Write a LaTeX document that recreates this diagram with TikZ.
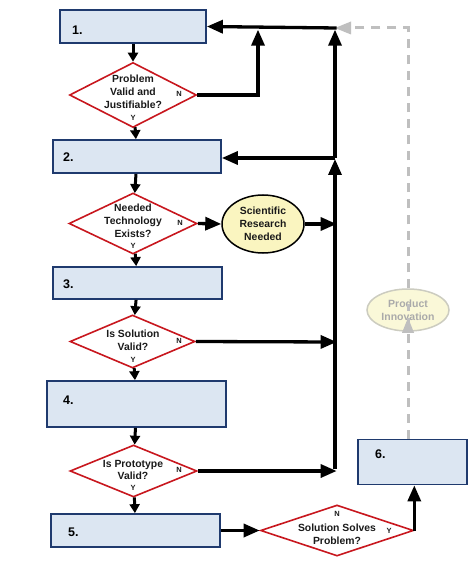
\documentclass[tikz,border=0pt]{standalone}
\usepackage{fontspec}
\setmainfont{Liberation Sans}
\usetikzlibrary{shapes.geometric,arrows.meta}
\definecolor{boxfill}{HTML}{DCE6F2}
\definecolor{boxline}{HTML}{1F3A6E}
\definecolor{diared}{HTML}{C8171E}
\definecolor{ellfill}{HTML}{FAF5C0}
\definecolor{ghostfill}{HTML}{FAF8D8}
\definecolor{ghostline}{HTML}{CCCCC0}
\definecolor{ghosttext}{HTML}{AAAAAA}
\definecolor{dashgray}{HTML}{BFBFBF}
\definecolor{txt}{HTML}{1A1A1A}
\tikzset{
  stepbox/.style={draw=boxline, fill=boxfill, line width=1.7pt, inner sep=0pt},
  dia/.style={diamond, draw=diared, fill=white, line width=1.6pt, inner sep=0pt},
  ell/.style={ellipse, draw=black, fill=ellfill, line width=1.5pt, inner sep=0pt, minimum width=82pt, minimum height=58pt},
  ghost/.style={ellipse, draw=ghostline, fill=ghostfill, line width=1.5pt, inner sep=0pt, minimum width=82pt, minimum height=42pt},
  dtext/.style={align=center, font=\bfseries\fontsize{10.4}{12.8}\selectfont, text=txt, inner sep=0pt},
  yn/.style={font=\bfseries\fontsize{7.5}{8}\selectfont, text=txt, inner sep=0pt},
  numlab/.style={font=\bfseries\fontsize{12.5}{14}\selectfont, text=black, anchor=west, inner sep=0pt},
  big/.style={line width=3.3pt, -{Triangle[length=16pt,width=13pt]}},
  small/.style={line width=3pt, -{Triangle[length=9pt,width=10pt]}},
  gdash/.style={line width=3pt, draw=dashgray, dash pattern=on 9pt off 7pt},
}
\begin{document}
\begin{tikzpicture}[x=1pt,y=-1pt]
\useasboundingbox (0,0) rectangle (474,561);
\fill[white] (0,0) rectangle (474,561);
% boxes
\node[stepbox, minimum width=146pt, minimum height=33pt] (b1) at (133,26.5) {};
\node[stepbox, minimum width=168pt, minimum height=33pt] (b2) at (137,156.5) {};
\node[stepbox, minimum width=169pt, minimum height=32pt] (b3) at (137.5,283) {};
\node[stepbox, minimum width=179pt, minimum height=46pt] (b4) at (136.5,404) {};
\node[stepbox, minimum width=169pt, minimum height=33pt] (b5) at (135.5,530.5) {};
\node[stepbox, minimum width=109pt, minimum height=45pt] (b6) at (412.5,462) {};
\node[numlab] (l1) at (72,30) {1.};
\node[numlab] (l2) at (63,157) {2.};
\node[numlab] (l3) at (63,284) {3.};
\node[numlab] (l4) at (63,400) {4.};
\node[numlab] (l5) at (68,532) {5.};
\node[numlab] (l6) at (375,454) {6.};
% diamonds
\node[dia, minimum width=127pt, minimum height=65pt] (d1) at (133,95) {};
\node[dtext] (t1) at (133,92) {Problem\\Valid and\\Justifiable?};
\node[yn] (n1) at (179,94) {N};
\node[yn] (y1) at (133,118) {Y};
\node[dia, minimum width=128pt, minimum height=61pt] (d2) at (133,223.5) {};
\node[dtext] (t2) at (133,221) {Needed\\Technology\\Exists?};
\node[yn] (n2) at (180,223) {N};
\node[yn] (y2) at (133,246) {Y};
\node[dia, minimum width=125pt, minimum height=53pt] (d3) at (132.5,341.5) {};
\node[dtext] (t3) at (133,340) {Is Solution\\Valid?};
\node[yn] (n3) at (179,341) {N};
\node[yn] (y3) at (133,360) {Y};
\node[dia, minimum width=127pt, minimum height=52pt] (d4) at (133.5,471) {};
\node[dtext] (t4) at (133,470) {Is Prototype\\Valid?};
\node[yn] (n4) at (179,470) {N};
\node[yn] (y4) at (133,488) {Y};
\node[dia, minimum width=153pt, minimum height=51pt] (d5) at (337,530.5) {};
\node[yn] (n5) at (337,514) {N};
\node[dtext] (t5) at (337,534) {Solution Solves\\Problem?};
\node[yn] (y5) at (389,531) {Y};
% ellipses
\node[ell] (sr) at (263,224) {};
\node[dtext] at (sr) {Scientific\\Research\\Needed};
\node[ghost] (pi) at (408,310) {};
\node[dtext, text=ghosttext, font=\bfseries\fontsize{10.5}{13}\selectfont] at (pi) {Product\\Innovation};
% coordinates of the trunk
\coordinate (vtop) at (335,28);
\coordinate (vmid) at (335,158);
\coordinate (vsr) at (335,224);
\coordinate (vd3) at (335,342);
\coordinate (vbot) at (335,471);
\coordinate (ntop) at (258,28);
\coordinate (gtop) at (408,28);
% gray dashed path
\draw[gdash] (pi.north) -- (gtop) -- ([xshift=14pt]vtop);
\fill[dashgray] (vtop) -- ++(16,-6.5) -- ++(0,13) -- cycle;
\draw[gdash] (b6.north -| pi.south) -- ([yshift=28pt]pi.south);
\fill[dashgray] ([yshift=14pt]pi.south) -- ++(-6,15) -- ++(12,0) -- cycle;
% main flow
\draw[small] (b1) -- (d1);
\draw[small] (d1) -- (b2);
\draw[small] (b2) -- (d2);
\draw[small] (d2) -- (b3);
\draw[small] (b3) -- (d3);
\draw[small] (d3) -- (b4);
\draw[small] (b4) -- (d4);
\draw[small] (d4) -- (b5);
% feedback trunk
\draw[big] ([yshift=1.65pt]vbot) -- ([yshift=-1pt]vmid);
\draw[big] (vmid) -- ([yshift=-1.65pt]vtop);
\draw[big] ([xshift=1.65pt]vtop) -- (b1.east);
\draw[big] (vmid) -- (b2.east |- vmid);
\draw[big] (d1.east) -| ([yshift=-1.65pt]ntop);
\draw[big] (d2.east) -- (sr.west);
\draw[big] (sr.east) -- ([xshift=1.65pt]vsr);
\draw[big] (d3.east) -- ([xshift=1.65pt]vd3);
\draw[big] (d4.east) -- ([xshift=1.65pt]vbot);
% bottom
\draw[big] (b5.east) -- (d5.west);
\draw[big] (d5.east) -- (d5.east |- b6.south);
\end{tikzpicture}
\end{document}
